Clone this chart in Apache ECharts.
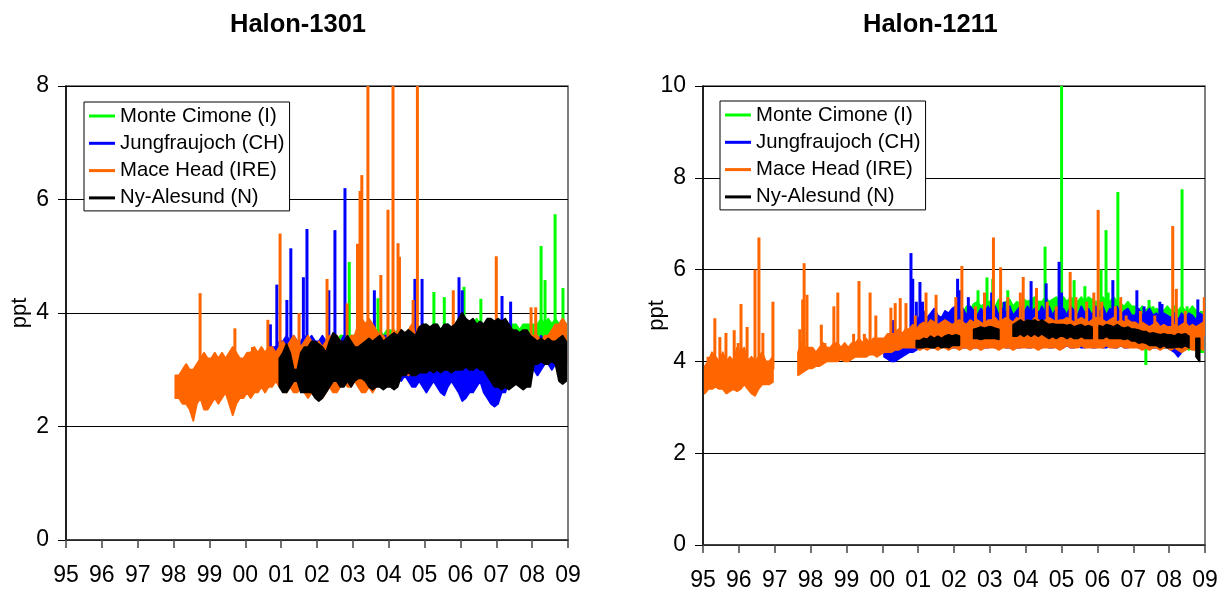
<!DOCTYPE html>
<html><head><meta charset="utf-8">
<script src="https://cdn.jsdelivr.net/npm/echarts@6/dist/echarts.min.js"></script>
<style>html,body{margin:0;padding:0;background:#fff}#c{width:1228px;height:592px}</style>
</head><body><div id="c"></div>
<script>
// ---------- names, colours, titles ----------
const chartTitles = ['Halon-1301', 'Halon-1211'];
const stationNames = ['Monte Cimone (I)', 'Jungfraujoch (CH)', 'Mace Head (IRE)', 'Ny-Alesund (N)'];
const stationColors = ['#00FF00', '#0000FF', '#FF6600', '#000000'];
const yAxisName = 'ppt';
const xYearMin = 1995, xYearMax = 2009;
const yMax1301 = 8, yMax1211 = 10;
const STEP = 0.1; // years between successive band samples (low/high envelope of the raw record)

// ---------- Halon-1301 ----------
const h1301MonteStart = 2002.55;
const h1301MonteLow = [3.0,3.0,3.0,3.1,3.0,
 3.0,3.1,3.0,3.0,3.1,3.0,3.0,3.1,3.0,3.0,
 3.1,3.0,3.1,3.1,3.0,3.1,3.1,3.0,3.1,3.1,
 3.1,3.1,3.2,3.1,3.1,3.2,3.1,3.1,3.2,3.1,
 3.2,3.1,3.2,3.2,3.1,3.2,3.2,3.1,3.2,3.2,
 3.2,3.2,3.1,3.2,3.2,3.1,3.2,3.2,3.2,3.2,
 3.3,3.2,3.3,3.3,3.2,3.3,3.3,3.2,3.3,3.3];
const h1301MonteHigh = [3.5,3.6,3.6,3.6,3.6,
 3.6,3.7,3.6,3.7,3.6,3.7,3.6,3.7,3.6,3.7,
 3.7,3.6,3.7,3.7,3.6,3.7,3.7,3.6,3.7,3.7,
 3.8,3.7,3.8,3.8,3.7,3.8,3.8,3.7,3.8,3.8,
 3.8,3.9,3.8,3.8,3.9,3.8,3.8,3.7,3.8,3.8,
 3.8,3.7,3.8,3.7,3.8,3.8,3.7,3.8,3.8,3.8,
 3.8,3.8,3.9,3.8,3.9,3.8,3.9,3.8,3.9,3.8];
const h1301MonteSpikes = [[2002.9,4.9],[2003.7,4.26],[2005.26,4.37],[2005.55,4.28],[2006.1,4.46],[2006.57,4.25],[2008.25,5.18],[2008.36,4.58],[2008.64,5.74],[2008.86,4.44]];

const h1301JungStart = 2000.65;
const h1301JungLow = [3.0,2.9,2.9,2.9,
 2.9,2.9,2.8,2.9,2.9,2.8,2.9,2.9,2.8,2.9,
 2.9,2.8,2.9,2.9,2.8,2.9,2.9,2.9,2.8,2.9,
 2.9,2.9,2.9,2.8,2.9,2.9,2.9,2.8,2.9,2.9,
 2.9,2.9,2.9,2.8,2.9,2.8,2.7,2.7,2.8,2.7,
 2.6,2.7,2.8,2.7,2.6,2.55,2.7,2.8,2.7,2.6,
 2.45,2.5,2.6,2.6,2.7,2.8,2.6,2.5,2.4,2.35,
 2.4,2.6,2.6,2.8,2.9,2.8,2.9,3.0,3.0,3.0,
 3.0,2.9,3.0,3.1,3.1,3.0,3.1,3.1,3.2,3.1];
const h1301JungHigh = [3.3,3.4,3.4,3.5,
 3.5,3.6,3.5,3.6,3.5,3.5,3.6,3.5,3.6,3.5,
 3.5,3.6,3.5,3.5,3.6,3.5,3.5,3.6,3.5,3.5,
 3.5,3.5,3.6,3.5,3.5,3.6,3.5,3.5,3.6,3.6,
 3.6,3.5,3.6,3.6,3.5,3.6,3.6,3.6,3.7,3.6,
 3.6,3.7,3.6,3.7,3.6,3.7,3.8,3.7,3.6,3.7,
 3.7,3.8,3.7,3.7,3.8,3.7,3.6,3.7,3.6,3.7,
 3.7,3.6,3.7,3.6,3.7,3.6,3.6,3.5,3.6,3.6,
 3.5,3.5,3.6,3.5,3.6,3.5,3.5,3.6,3.5,3.5];
const h1301JungSpikes = [[2000.7,3.8],[2000.88,4.5],[2001.16,4.23],[2001.27,5.14],[2001.62,4.63],[2001.72,5.48],[2002.33,4.4],[2002.5,5.46],[2002.78,6.2],[2003.6,4.4],[2004.73,4.6],[2004.93,4.6],[2005.96,4.63],[2006.05,4.4],[2007.16,4.3],[2007.4,4.2]];

const h1301MaceStart = 1998.05;
const h1301MaceLow = [
 2.5,2.5,2.4,2.4,2.3,2.1,2.4,2.5,2.3,2.3,
 2.4,2.5,2.4,2.5,2.6,2.4,2.2,2.4,2.5,2.5,
 2.6,2.5,2.6,2.6,2.7,2.6,2.7,2.7,2.8,2.7,
 2.7,2.6,2.7,2.6,2.6,2.7,2.6,2.5,2.6,2.7,
 2.6,2.5,2.6,2.7,2.6,2.6,2.7,2.8,2.7,2.7,
 2.8,2.7,2.6,2.6,2.7,2.6,2.7,2.8,2.8,2.9,
 2.9,2.9,3.0,2.9,3.0,2.9,3.0,2.9,3.0,3.0,
 3.0,3.0,3.1,3.0,3.1,3.1,3.0,3.1,3.1,3.1,
 3.1,3.1,3.2,3.1,3.2,3.1,3.2,3.1,3.2,3.2,
 3.1,3.2,3.1,3.2,3.2,3.1,3.2,3.2,3.1,3.2,
 3.2,3.2,3.3,3.2,3.3,3.2,3.2,3.1,3.0,3.1];
const h1301MaceHigh = [
 2.9,2.9,3.0,3.1,3.0,3.0,3.1,3.2,3.3,3.2,
 3.2,3.3,3.2,3.3,3.2,3.3,3.4,3.3,3.2,3.2,
 3.3,3.3,3.4,3.3,3.4,3.3,3.4,3.4,3.3,3.4,
 3.5,3.4,3.5,3.6,3.5,3.4,3.5,3.6,3.5,3.4,
 3.5,3.4,3.5,3.6,3.5,3.6,3.5,3.4,3.5,3.6,
 3.6,3.8,3.9,3.8,3.9,3.8,3.7,3.6,3.6,3.5,
 3.6,3.7,3.6,3.7,3.6,3.7,3.8,3.6,3.6,3.6,
 3.7,3.6,3.7,3.6,3.7,3.6,3.7,3.6,3.7,3.6,
 3.5,3.6,3.5,3.6,3.5,3.6,3.5,3.6,3.6,3.5,
 3.5,3.6,3.6,3.5,3.6,3.5,3.6,3.6,3.5,3.6,
 3.6,3.6,3.5,3.6,3.6,3.7,3.8,3.8,3.9,3.8];
const h1301MaceSpikes = [[1998.74,4.35],[1999.71,3.73],[2000.2,3.4],[2000.63,3.88],[2000.97,5.4],[2001.5,4.0],[2002.28,4.6],[2002.84,4.17],
 [2003.13,5.22],[2003.2,6.15],[2003.25,6.43],[2003.42,8.0],[2003.78,4.67],[2003.98,5.82],
 [2004.12,8.0],[2004.26,5.23],[2004.3,4.99],[2004.68,4.23],[2004.8,8.0],[2005.8,4.4],[2007.0,5.0],[2007.97,4.1],[2008.1,4.1]];

const h1301NyStart = 2000.95;
const h1301NyLow = [2.7,
 2.6,2.6,2.7,2.8,2.8,2.6,2.6,2.6,2.6,2.5,
 2.45,2.5,2.6,2.7,2.8,2.8,2.7,2.7,2.8,2.7,
 2.8,2.85,2.85,2.8,2.7,2.65,2.7,2.7,2.65,2.7,
 2.7,2.65,2.7,2.9,2.9,2.95,2.9,2.9,2.95,2.95,
 2.95,3.0,2.95,3.0,2.95,3.0,3.0,2.95,3.0,3.0,
 3.0,3.05,3.0,3.0,3.05,3.0,3.0,2.9,2.8,2.7,
 2.7,2.65,2.7,2.65,2.7,2.75,2.7,2.65,2.7,2.7,
 3.1,3.1,3.15,3.1,3.1,3.15,3.1,2.8,2.75,2.8];
const h1301NyHigh = [3.2,
 3.3,3.45,3.3,3.0,3.0,3.3,3.4,3.4,3.5,3.5,
 3.45,3.4,3.3,3.5,3.65,3.6,3.5,3.5,3.6,3.5,
 3.4,3.4,3.45,3.5,3.55,3.5,3.55,3.6,3.5,3.55,
 3.6,3.65,3.6,3.7,3.65,3.7,3.65,3.6,3.75,3.8,
 3.8,3.75,3.8,3.8,3.7,3.8,3.8,3.75,3.8,3.9,
 4.0,3.9,3.85,3.9,3.8,3.85,3.8,3.9,3.9,3.85,
 3.9,3.85,3.9,3.8,3.7,3.7,3.65,3.7,3.7,3.6,
 3.55,3.5,3.55,3.5,3.55,3.5,3.5,3.55,3.6,3.5];
const h1301NySpikes = [];

// ---------- Halon-1211 ----------
const h1211MonteStart = 2002.05;
const h1211MonteLow = [
 4.4,4.4,4.35,4.4,4.4,4.35,4.4,4.4,4.4,4.4,
 4.4,4.4,4.45,4.4,4.4,4.4,4.45,4.4,4.4,4.4,
 4.4,4.45,4.4,4.4,4.4,4.45,4.4,4.4,4.45,4.4,
 4.4,4.4,4.45,4.4,4.4,4.4,4.45,4.4,4.4,4.4,
 4.4,4.4,4.4,4.45,4.4,4.4,4.4,4.4,4.4,4.35,
 4.35,4.35,4.3,4.35,4.35,4.3,4.35,4.35,4.3,4.3,
 4.3,4.3,4.25,4.3,4.3,4.25,4.3,4.25,4.2,4.2];
const h1211MonteHigh = [
 5.05,5.15,5.05,5.2,5.1,5.25,5.3,5.2,5.25,5.3,
 5.3,5.2,5.35,5.25,5.3,5.35,5.2,5.3,5.25,5.35,
 5.3,5.35,5.4,5.3,5.3,5.4,5.3,5.35,5.4,5.3,
 5.4,5.3,5.4,5.35,5.3,5.4,5.3,5.4,5.35,5.3,
 5.3,5.4,5.3,5.3,5.4,5.3,5.25,5.2,5.3,5.2,
 5.2,5.1,5.2,5.1,5.2,5.1,5.15,5.1,5.1,5.2,
 5.1,5.2,5.1,5.2,5.1,5.1,5.2,5.1,5.05,5.0];
const h1211MonteSpikes = [[2002.67,5.55],[2002.92,5.83],[2003.08,5.8],[2003.3,5.3],[2003.5,5.55],[2004.2,5.3],[2004.54,6.5],[2004.7,5.3],
 [2005.0,10.0],[2005.35,5.77],[2005.55,5.3],[2005.65,5.64],[2006.1,6.0],[2006.24,6.86],[2006.3,5.5],[2006.57,7.69],[2007.35,3.92],[2007.44,5.34],[2007.55,5.2],
 [2008.36,7.75],[2008.5,5.2],[2008.9,5.1]];

const h1211JungStart = 2000.05;
const h1211JungLow = [
 4.1,4.05,4.0,4.0,4.05,4.1,4.15,4.2,4.2,4.25,
 4.3,4.3,4.3,4.3,4.3,4.3,4.35,4.3,4.3,4.3,
 4.3,4.35,4.3,4.3,4.35,4.3,4.3,4.35,4.3,4.3,
 4.35,4.3,4.3,4.35,4.3,4.3,4.35,4.3,4.3,4.35,
 4.3,4.3,4.35,4.3,4.3,4.35,4.3,4.3,4.35,4.3,
 4.3,4.35,4.3,4.3,4.35,4.3,4.3,4.35,4.3,4.3,
 4.35,4.3,4.3,4.35,4.3,4.3,4.35,4.3,4.3,4.35,
 4.35,4.3,4.3,4.3,4.35,4.3,4.3,4.3,4.3,4.3,
 4.25,4.2,4.1,4.2,4.3,4.3,4.3,4.25,4.3,4.3];
const h1211JungHigh = [
 4.3,4.35,4.3,4.35,4.4,4.5,4.6,4.6,4.7,4.8,
 5.0,5.1,4.95,5.05,5.15,5.0,4.95,5.1,5.05,5.15,
 5.2,5.05,5.15,5.0,5.2,5.1,5.0,5.15,5.05,5.2,
 5.05,5.2,5.0,5.15,5.05,5.2,5.0,5.1,5.2,5.05,
 5.2,5.05,5.15,5.0,5.2,5.05,5.2,5.0,5.15,5.05,
 5.15,5.0,5.2,5.1,5.0,5.2,5.05,5.15,5.0,5.2,
 5.05,5.2,5.0,5.15,5.05,5.2,5.0,5.1,5.15,5.0,
 5.0,5.15,5.0,5.05,5.15,5.0,5.05,4.95,5.05,5.0,
 4.95,5.05,4.9,5.05,4.95,5.05,5.0,4.9,5.05,5.0];
const h1211JungSpikes = [[2000.3,4.9],[2000.8,6.36],[2000.85,5.8],[2000.95,5.3],[2001.05,5.73],[2001.12,5.3],[2001.4,5.0],
 [2002.1,5.8],[2002.15,5.55],[2002.4,5.4],[2002.55,5.0],[2003.05,5.5],[2003.4,5.3],[2003.55,5.2],
 [2004.15,5.75],[2004.35,5.1],[2004.57,5.7],[2004.93,6.17],[2005.0,5.5],[2005.2,5.1],[2006.3,5.0],[2006.43,5.77],
 [2007.1,5.55],[2007.3,5.2],[2007.74,5.3],[2007.8,5.25],[2008.8,5.35]];

const h1211MaceStart = 1995.05;
const h1211MaceLow = [
 3.3,3.4,3.4,3.45,3.4,3.4,3.3,3.35,3.4,3.35,
 3.4,3.5,3.4,3.3,3.25,3.4,3.5,3.5,3.5,3.55,
 null,null,null,null,null,null,3.7,3.75,3.8,3.85,
 3.85,3.9,3.9,3.95,4.0,4.0,4.0,4.0,4.05,4.0,
 4.0,4.05,4.1,4.1,4.1,4.1,4.15,4.15,4.1,4.15,
 4.2,4.2,4.2,4.25,4.25,4.3,4.3,4.3,4.3,4.3,
 4.25,4.3,4.25,4.3,4.3,4.25,4.3,4.3,4.25,4.3,
 4.3,4.25,4.3,4.3,4.25,4.3,4.3,4.25,4.3,4.3,
 4.3,4.3,4.25,4.3,4.3,4.3,4.25,4.3,4.3,4.3,
 4.3,4.3,4.3,4.25,4.3,4.3,4.3,4.3,4.3,4.25,
 4.3,4.35,4.3,4.3,4.3,4.35,4.3,4.3,4.3,4.3,
 4.3,4.3,4.35,4.3,4.3,4.3,4.35,4.3,4.3,4.3,
 4.3,4.3,4.25,4.3,4.25,4.3,4.3,4.25,4.3,4.3,
 4.25,4.3,4.25,4.2,4.25,4.3,4.25,4.25,4.3,4.25];
const h1211MaceHigh = [
 3.9,4.0,4.2,4.1,4.0,4.2,4.0,4.1,4.0,4.3,
 4.2,4.3,4.0,4.1,4.0,4.1,4.2,4.0,4.0,4.1,
 null,null,null,null,null,null,4.2,4.4,4.3,4.3,
 4.3,4.2,4.3,4.4,4.3,4.3,4.4,4.4,4.3,4.4,
 4.3,4.4,4.4,4.5,4.4,4.5,4.4,4.5,4.5,4.5,
 4.5,4.6,4.6,4.6,4.7,4.6,4.7,4.7,4.8,4.7,
 4.8,4.85,4.8,4.9,4.85,4.8,4.85,4.9,4.85,4.8,
 4.85,4.9,4.85,4.8,4.9,4.85,4.9,4.85,4.8,4.9,
 4.9,4.95,4.85,4.9,4.95,4.9,4.85,4.95,4.9,4.85,
 4.9,4.85,4.95,4.9,4.85,4.9,4.95,4.9,4.85,4.9,
 4.9,4.95,4.9,4.85,4.9,4.95,4.9,4.85,4.9,4.95,
 4.95,4.9,4.85,4.9,4.95,4.85,4.9,4.85,4.9,4.85,
 4.85,4.8,4.85,4.8,4.75,4.8,4.85,4.75,4.8,4.75,
 4.75,4.8,4.75,4.8,4.85,4.75,4.8,4.75,4.8,4.85];
const h1211MaceSpikes = [[1995.14,4.1],[1995.33,4.94],[1995.47,4.53],[1995.64,4.62],[1995.87,4.68],[1995.98,4.4],[1996.06,5.25],[1996.23,4.75],
 [1996.45,6.0],[1996.56,6.7],[1996.67,4.62],[1996.95,5.3],
 [1997.7,4.7],[1997.78,5.35],[1997.82,6.14],[1997.9,5.45],[1998.3,4.8],[1998.4,4.4],[1998.65,5.2],[1998.76,5.5],
 [1999.2,4.6],[1999.35,5.75],[1999.5,4.6],[1999.66,5.5],[1999.82,5.0],
 [2000.24,5.17],[2000.36,5.27],[2000.5,5.38],[2000.66,5.27],[2000.92,5.0],[2001.22,5.5],[2001.5,5.45],
 [2002.05,5.4],[2002.22,6.08],[2002.6,5.2],[2002.85,5.5],[2003.1,6.7],[2003.3,6.05],[2003.5,5.4],[2003.85,5.5],[2003.93,5.84],
 [2004.3,5.6],[2004.6,5.3],[2004.85,5.2],[2005.24,5.95],[2005.4,5.4],[2005.7,5.3],[2005.9,5.5],
 [2006.02,7.3],[2006.12,5.3],[2006.5,5.2],[2006.65,5.4],[2006.8,5.0],[2007.2,5.1],[2007.6,5.0],
 [2008.1,6.95],[2008.2,5.58],[2008.45,5.1],[2008.98,5.4]];

const h1211NyStart = 2000.95;
const h1211NyLow = [4.3,
 4.3,4.3,4.32,4.3,4.3,4.35,4.3,4.32,4.3,4.35,
 4.35,4.35,null,null,null,4.5,4.5,4.48,4.5,4.5,
 4.5,4.5,4.48,null,null,null,4.55,4.55,4.6,4.55,
 4.6,4.55,4.6,4.55,4.6,4.55,4.5,4.55,4.5,4.55,
 4.55,4.5,4.55,4.5,4.5,4.55,4.5,4.5,4.5,null,
 4.5,4.5,4.55,4.5,4.5,4.5,4.5,4.48,4.5,4.45,
 4.45,4.4,4.42,4.4,4.35,4.35,4.35,4.3,4.35,4.3,
 4.3,4.3,4.32,4.3,4.35,4.3,null,4.1,4.0,null];
const h1211NyHigh = [4.45,
 4.45,4.5,4.48,4.55,4.5,4.55,4.5,4.55,4.58,4.55,
 4.58,4.55,null,null,null,4.7,4.72,4.75,4.72,4.75,
 4.75,4.72,4.7,null,null,null,4.8,4.85,4.9,4.85,
 4.9,4.88,4.9,4.85,4.9,4.85,4.8,4.82,4.8,4.8,
 4.8,4.78,4.8,4.75,4.78,4.8,4.75,4.78,4.75,null,
 4.78,4.75,4.8,4.78,4.75,4.8,4.75,4.72,4.75,4.7,
 4.7,4.68,4.65,4.65,4.6,4.62,4.6,4.58,4.6,4.58,
 4.58,4.55,4.6,4.58,4.6,4.55,null,4.5,4.5,null];
const h1211NySpikes = [];

// ---------- build ----------
const chartData = [
  [[h1301MonteStart, h1301MonteLow, h1301MonteHigh, h1301MonteSpikes],
   [h1301JungStart, h1301JungLow, h1301JungHigh, h1301JungSpikes],
   [h1301MaceStart, h1301MaceLow, h1301MaceHigh, h1301MaceSpikes],
   [h1301NyStart, h1301NyLow, h1301NyHigh, h1301NySpikes]],
  [[h1211MonteStart, h1211MonteLow, h1211MonteHigh, h1211MonteSpikes],
   [h1211JungStart, h1211JungLow, h1211JungHigh, h1211JungSpikes],
   [h1211MaceStart, h1211MaceLow, h1211MaceHigh, h1211MaceSpikes],
   [h1211NyStart, h1211NyLow, h1211NyHigh, h1211NySpikes]]
];

function makeRender(start, low, high, spikes, color) {
  const tAt = i => start + i * STEP;
  return function (params, api) {
    const children = [];
    let run = [];
    const flush = () => {
      if (!run.length) return;
      const top = run.map(i => api.coord([tAt(i), high[i]]));
      const bot = run.slice().reverse().map(i => api.coord([tAt(i), low[i]]));
      children.push({type: 'polygon', shape: {points: top.concat(bot)},
        style: {fill: color, stroke: color, lineWidth: 1.8, lineJoin: 'round'}});
      run = [];
    };
    for (let i = 0; i < low.length; i++) {
      if (low[i] === null) flush(); else run.push(i);
    }
    flush();
    spikes.forEach(s => {
      let i = Math.max(0, Math.min(low.length - 1, Math.round((s[0] - start) / STEP)));
      let j = i, k = i;
      while (low[j] === null && j > 0) j--;
      while (low[k] === null && k < low.length - 1) k++;
      i = (low[j] !== null) ? j : k;
      const mid = (low[i] + high[i]) / 2;
      const b = api.coord([s[0], mid]);
      const p = api.coord([s[0], s[1]]);
      children.push({type: 'line', shape: {x1: b[0], y1: b[1], x2: p[0], y2: p[1]},
        style: {stroke: color, lineWidth: 3, lineCap: 'butt'}});
    });
    return {type: 'group', children};
  };
}

const FONT = 'Liberation Sans, Arial, sans-serif';
const grids = [
  {left: 66, top: 86, width: 502, height: 454},
  {left: 703, top: 86, width: 502, height: 459}
];
const yMaxes = [yMax1301, yMax1211];
const titleLefts = [229, 862];
const legendPos = [[84, 102], [720, 101]];

const option = {
  animation: false,
  backgroundColor: '#fff',
  title: chartTitles.map((t, k) => ({
    text: t, left: titleLefts[k] - 4, top: 7,
    textStyle: {fontFamily: FONT, fontSize: 25.5, fontWeight: 'bold', color: '#000'}
  })),
  legend: [0, 1].map(k => ({
    orient: 'vertical', left: legendPos[k][0], top: legendPos[k][1],
    data: stationNames.map((n, j) => ({name: n, itemStyle: {color: stationColors[j]}})),
    icon: 'rect', itemWidth: 26, itemHeight: 3, itemGap: 7.3,
    padding: [4, 5, 3, 5], borderColor: '#000', borderWidth: 1, backgroundColor: '#fff',
    textStyle: {fontFamily: FONT, fontSize: 20.3, color: '#000'},
    selectedMode: false
  })),
  grid: grids.map(g => Object.assign({show: true, borderColor: '#555', borderWidth: 1.5, backgroundColor: 'transparent'}, g)),
  xAxis: [0, 1].map(k => ({
    type: 'value', gridIndex: k, min: xYearMin, max: xYearMax, interval: 1,
    axisLine: {show: true, onZero: false, lineStyle: {color: '#333', width: 1.5}},
    axisTick: {show: true, inside: false, length: 8, lineStyle: {color: '#444', width: 1.5}},
    axisLabel: {margin: 24, fontFamily: FONT, fontSize: 23, color: '#000',
      formatter: v => String(Math.round(v) % 100).padStart(2, '0')},
    splitLine: {show: false}
  })),
  yAxis: [0, 1].map(k => ({
    type: 'value', gridIndex: k, min: 0, max: yMaxes[k], interval: 2,
    name: yAxisName, nameLocation: 'middle', nameGap: 35, nameRotate: 90, nameMoveOverlap: false,
    nameTextStyle: {fontFamily: FONT, fontSize: 22, color: '#000'},
    axisLine: {show: true, lineStyle: {color: '#000', width: 1.5}},
    axisTick: {show: true, inside: false, length: 8, lineStyle: {color: '#000', width: 1}},
    axisLabel: {margin: 17, fontFamily: FONT, fontSize: 23, color: '#000'},
    splitLine: {show: true, lineStyle: {color: '#000', width: 1}}
  })),
  series: []
};
chartData.forEach((chart, k) => {
  chart.forEach((s, j) => {
    option.series.push({
      type: 'custom', name: stationNames[j], xAxisIndex: k, yAxisIndex: k,
      data: [[s[0], s[1][0]]], encode: {x: 0, y: 1},
      renderItem: makeRender(s[0], s[1], s[2], s[3], stationColors[j]),
      itemStyle: {color: stationColors[j]}, clip: true, silent: true
    });
  });
});
const chart = echarts.init(document.getElementById('c'), null, {renderer: 'canvas'});
chart.setOption(option);
</script>
</body></html>
